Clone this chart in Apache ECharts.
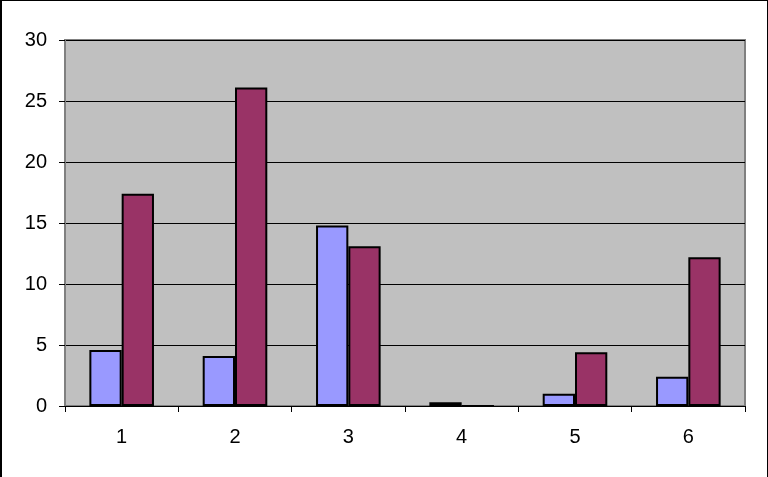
<!DOCTYPE html>
<html>
<head>
<meta charset="utf-8">
<script src="https://cdn.jsdelivr.net/npm/echarts@6/dist/echarts.min.js"></script>
<style>
html,body{margin:0;padding:0;background:#fff;}
#c{width:768px;height:477px;}
</style>
</head>
<body>
<div id="c"></div>
<script>
var categories = ['1', '2', '3', '4', '5', '6'];
var series1 = [4.6, 4.1, 14.8, 0.3, 1.0, 2.4];
var series2 = [17.4, 26.1, 13.1, 0, 4.4, 12.2];
var yTicks = [0, 5, 10, 15, 20, 25, 30];

var chart = echarts.init(document.getElementById('c'), null, {renderer: 'canvas'});
var font = 'Liberation Sans';
chart.setOption({
  animation: false,
  backgroundColor: '#ffffff',
  textStyle: {fontFamily: font, fontSize: 20},
  grid: {
    left: 65, right: 23, top: 40, bottom: 71,
    show: true, backgroundColor: '#C0C0C0', borderColor: '#808080', borderWidth: 2
  },
  graphic: [
    {type: 'rect', shape: {x: 0, y: 0, width: 2, height: 477}, style: {fill: '#000'}, silent: true},
    {type: 'rect', shape: {x: 0, y: 0, width: 768, height: 1}, style: {fill: '#000'}, silent: true},
    {type: 'rect', shape: {x: 767, y: 0, width: 1, height: 477}, style: {fill: '#000'}, silent: true}
  ],
  xAxis: {
    type: 'category',
    data: categories,
    boundaryGap: true,
    axisLine: {show: true, lineStyle: {color: '#000', width: 1}},
    axisTick: {show: true, length: 6, lineStyle: {color: '#000'}},
    axisLabel: {color: '#000', fontSize: 20, fontFamily: font, margin: 21},
    splitLine: {show: false}
  },
  yAxis: {
    type: 'value',
    min: yTicks[0], max: yTicks[yTicks.length - 1], interval: 5,
    axisLine: {show: true, lineStyle: {color: '#808080', width: 1}},
    axisTick: {show: true, length: 6, lineStyle: {color: '#000'}},
    axisLabel: {color: '#000', fontSize: 20, fontFamily: font, margin: 18},
    splitLine: {show: true, lineStyle: {color: '#000', width: 1}}
  },
  series: [
    {
      type: 'bar', data: series1, barGap: '0%', barCategoryGap: '43%',
      itemStyle: {color: '#9999FF', borderColor: '#000', borderWidth: 2}
    },
    {
      type: 'bar', data: series2, barGap: '0%', barCategoryGap: '43%',
      itemStyle: {color: '#993366', borderColor: '#000', borderWidth: 2}
    }
  ]
});
</script>
</body>
</html>
